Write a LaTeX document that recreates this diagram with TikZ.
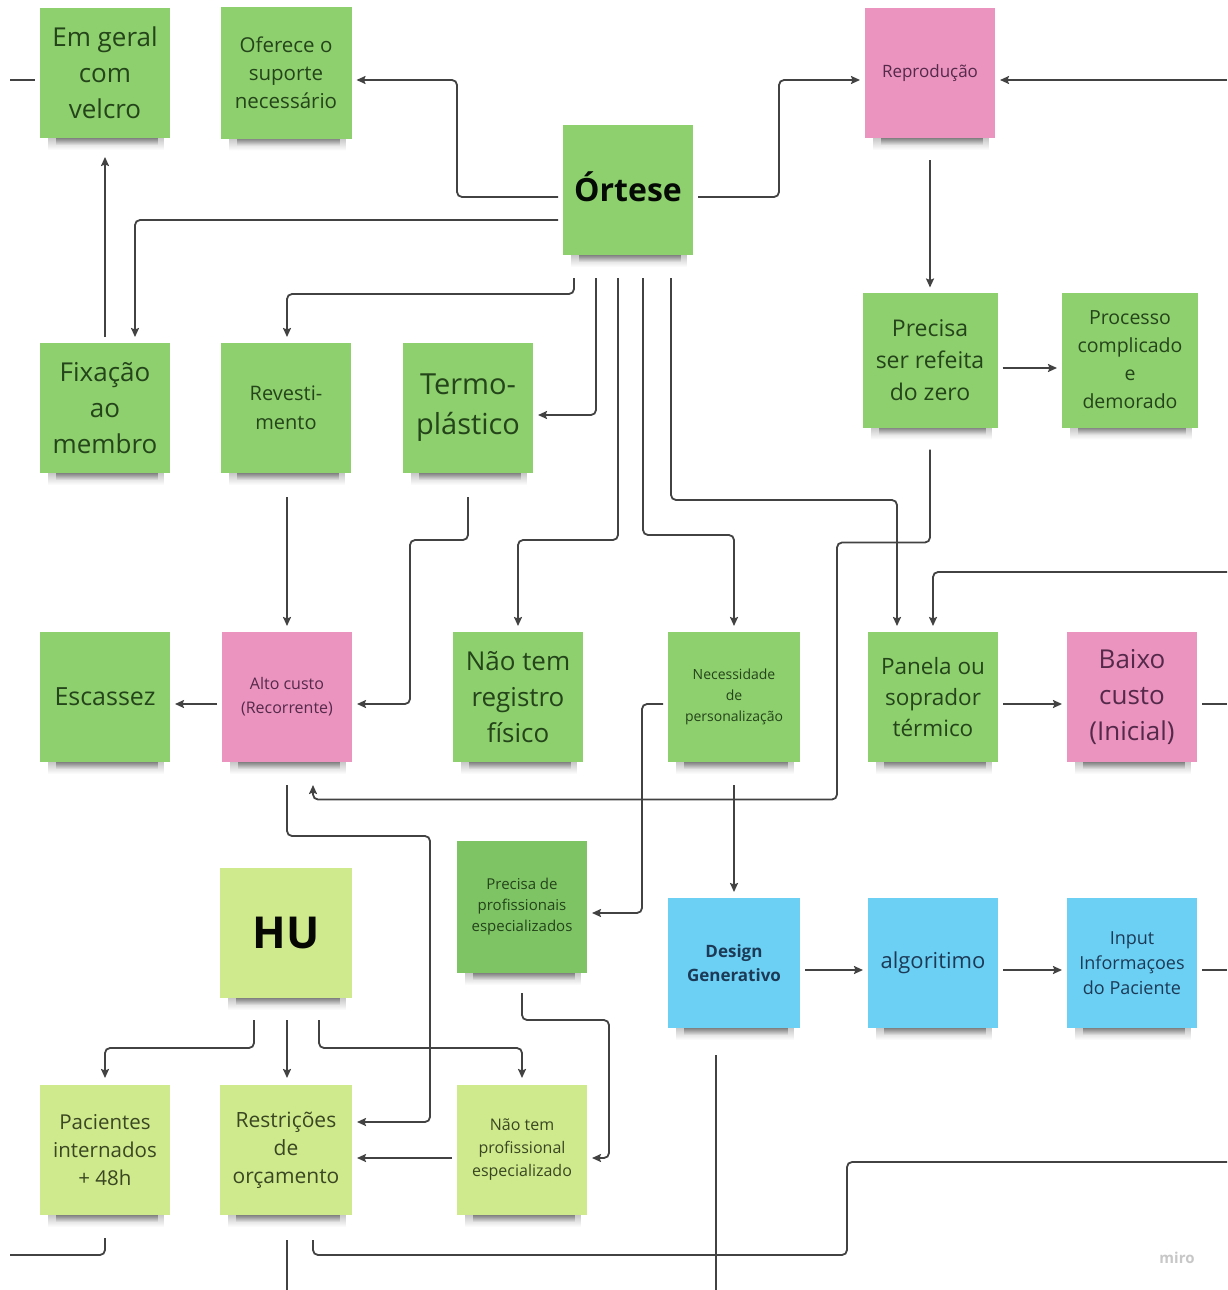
\documentclass[tikz,border=0pt]{standalone}
\usepackage{fontspec}
\setmainfont{Open Sans}
\usetikzlibrary{calc,arrows.meta,fadings}

\definecolor{stgreen}{HTML}{8ECF6E}
\definecolor{stgreendk}{HTML}{7EC465}
\definecolor{stlight}{HTML}{CFEA8C}
\definecolor{stpink}{HTML}{EA94BF}
\definecolor{stblue}{HTML}{6CD0F5}
\definecolor{txgreen}{HTML}{24441A}
\definecolor{txlight}{HTML}{3A4722}
\definecolor{txpink}{HTML}{55294A}
\definecolor{txblue}{HTML}{1C3A56}
\definecolor{wire}{HTML}{424242}

\newcommand\tsz[2]{\fontsize{#1}{#2}\selectfont}
\newcommand\stickshadow[1]{%
  \fill[black, opacity=0.22, path fading=south]
    ($(#1.south west)+(8,0)$) rectangle ($(#1.south east)+(-6,12)$);
  \fill[black, opacity=0.35, path fading=south]
    ($(#1.south west)+(16,0)$) rectangle ($(#1.south east)+(-12,7)$);}

\tikzset{
  sticky/.style={draw=none, minimum width=130pt, minimum height=130pt,
    inner sep=0pt, outer sep=0pt, align=center},
  gnote/.style={sticky, fill=stgreen, text=txgreen},
  gdnote/.style={sticky, fill=stgreendk, text=txgreen},
  lnote/.style={sticky, fill=stlight, text=txlight},
  pnote/.style={sticky, fill=stpink, text=txpink},
  bnote/.style={sticky, fill=stblue, text=txblue},
  fs/.style 2 args={font=\tsz{#1}{#2}},
  wire/.style={draw=wire, line width=1.8pt, rounded corners=5pt},
  arr/.style={wire, -{Stealth[length=9pt,width=8pt,inset=1.5pt]}},
}

\begin{document}
\begin{tikzpicture}[x=1pt,y=-1pt]
\useasboundingbox (0,0) rectangle (1227,1290);
\fill[white] (0,0) rectangle (1227,1290);

% sticky notes
\node[gnote, fs={26}{36}] (velcro) at (105,73) {Em geral\\com\\velcro};
\node[gnote, fs={20.5}{28}, minimum width=131pt, minimum height=131pt] (oferece) at (286,73) {Oferece o\\suporte\\necessário};
\node[gnote, font=\tsz{32}{40}\bfseries, text=black!85!txgreen] (ortese) at (628,190) {\raisebox{7pt}{Órtese}};
\node[pnote, fs={17}{24}] (reprod) at (930,73) {Reprodução};
\node[gnote, fs={26}{36}] (fixacao) at (105,408) {Fixação\\ao\\membro};
\node[gnote, fs={20}{29}] (revest) at (286,408) {Revesti-\\mento};
\node[gnote, fs={29}{40}] (termo) at (468,408) {Termo-\\plástico};
\node[gnote, fs={23}{32}, minimum width=135pt, minimum height=135pt] (refeita) at (930,360) {Precisa\\ser refeita\\do zero};
\node[gnote, fs={19.5}{28}, minimum width=136pt, minimum height=135pt] (processo) at (1130,360) {Processo\\complicado\\e\\demorado};
\node[gnote, fs={25}{34}] (escassez) at (105,697) {Escassez};
\node[pnote, fs={16}{24}] (alto) at (287,697) {Alto custo\\(Recorrente)};
\node[gnote, fs={26}{36}] (registro) at (518,697) {Não tem\\registro\\físico};
\node[gnote, fs={14}{21}, minimum width=132pt] (necess) at (734,697) {Necessidade\\de\\personalização};
\node[gnote, fs={22.5}{31}] (panela) at (933,697) {Panela ou\\soprador\\térmico};
\node[pnote, fs={26}{36}] (baixo) at (1132,697) {Baixo\\custo\\(Inicial)};
\node[lnote, font=\tsz{44}{52}\bfseries, text=black!90!txlight, minimum width=132pt] (hu) at (286,933) {HU};
\node[gdnote, fs={15}{21}, minimum height=132pt] (precprof) at (522,907) {Precisa de\\profissionais\\especializados};
\node[bnote, font=\tsz{17}{24}\bfseries, minimum width=132pt] (design) at (734,963) {Design\\Generativo};
\node[bnote, fs={22}{30}] (algo) at (933,963) {algoritimo};
\node[bnote, fs={18}{25}] (input) at (1132,963) {Input\\Informaçoes\\do Paciente};
\node[lnote, fs={20.5}{28}] (pacientes) at (105,1150) {Pacientes\\internados\\+ 48h};
\node[lnote, fs={21}{28}, minimum width=132pt] (restr) at (286,1150) {Restrições\\de\\orçamento};
\node[lnote, fs={16}{23}] (naoprof) at (522,1150) {Não tem\\profissional\\especializado};

% soft shadows under the notes
\foreach \n in {velcro,oferece,ortese,reprod,fixacao,revest,termo,refeita,processo,
  escassez,alto,registro,necess,panela,baixo,hu,precprof,design,algo,input,
  pacientes,restr,naoprof}{\stickshadow{\n}}

% loose ends leaving the board
\coordinate (offL1) at (10,80);
\coordinate (offR1) at (1227,80);
\coordinate (offR2) at (1227,572);
\coordinate (offR3) at (1227,704);
\coordinate (offR5) at (1227,970);
\coordinate (offR4) at (1227,1162);
\coordinate (offL2) at (10,1255);
\coordinate (offB1) at (287,1290);
\coordinate (offB2) at (716,1290);

% connectors
\draw[wire] (offL1) -- ($(velcro.west)+(-5,7)$);
\draw[arr] ($(ortese.west)+(-5,7)$) -- ++(-101,0) |- ($(oferece.east)+(5,7)$);
\draw[arr] ($(ortese.east)+(5,7)$) -- ++(81,0) |- ($(reprod.west)+(-5,7)$);
\draw[arr] (offR1) -- ($(reprod.east)+(5,7)$);
\draw[arr] ($(reprod.south)+(0,22)$) -- ($(refeita.north)+(0,-5)$);
\draw[arr] ($(refeita.east)+(5,8)$) -- ($(processo.west)+(-5,8)$);
\draw[arr] ($(ortese.west)+(-5,30)$) -| ($(fixacao.north)+(30,-6)$);
\draw[arr] ($(fixacao.north)+(0,-6)$) -- ($(velcro.south)+(0,19)$);

\draw[arr] ($(ortese.south)+(-54,23)$) -- ++(0,16) -| ($(revest.north)+(1,-6)$);
\draw[arr] ($(ortese.south)+(-32,23)$) |- ($(termo.east)+(5,7)$);
\draw[arr] ($(ortese.south)+(-10,23)$) -- ++(0,262) -| ($(registro.north)+(0,-6)$);
\draw[arr] ($(ortese.south)+(15,23)$) -- ++(0,257) -| ($(necess.north)+(0,-6)$);
\draw[arr] ($(ortese.south)+(43,23)$) -- ++(0,222) -| ($(panela.north)+(-36,-6)$);

\draw[arr] ($(refeita.south)+(0,22)$) -- ++(0,93) -- ++(-93,0) -- ++(0,257) -| ($(alto.south)+(26,23)$);
\draw[arr] (offR2) -| ($(panela.north)+(0,-6)$);
\draw[arr] ($(necess.west)+(-5,7)$) -- ++(-21,0) |- ($(precprof.east)+(5,6)$);
\draw[arr] ($(necess.south)+(0,23)$) -- ($(design.north)+(0,-6)$);
\draw[arr] ($(panela.east)+(5,7)$) -- ($(baixo.west)+(-5,7)$);
\draw[wire] ($(baixo.east)+(5,7)$) -- (offR3);

\draw[arr] ($(termo.south)+(0,24)$) -- ++(0,43) -- ++(-58,0) |- ($(alto.east)+(5,7)$);
\draw[arr] ($(revest.south)+(1,24)$) -- ($(alto.north)+(0,-6)$);
\draw[arr] ($(alto.west)+(-5,7)$) -- ($(escassez.east)+(5,7)$);
\draw[arr] ($(alto.south)+(0,23)$) -- ++(0,51) -- ++(143,0) |- ($(restr.east)+(5,-28)$);

\draw[arr] ($(hu.south)+(-32,22)$) -- ++(0,28) -| ($(pacientes.north)+(0,-7)$);
\draw[arr] ($(hu.south)+(1,22)$) -- ($(restr.north)+(1,-7)$);
\draw[arr] ($(hu.south)+(33,22)$) -- ++(0,28) -| ($(naoprof.north)+(0,-7)$);
\draw[arr] ($(precprof.south)+(0,20)$) -- ++(0,27) -- ++(87,0) |- ($(naoprof.east)+(5,8)$);
\draw[arr] ($(naoprof.west)+(-5,8)$) -- ($(restr.east)+(5,8)$);

\draw[wire] ($(pacientes.south)+(0,23)$) |- (offL2);
\draw[wire] ($(restr.south)+(1,25)$) -- (offB1);
\draw[wire] ($(restr.south)+(27,25)$) -- ++(0,15) -- ++(534,0) |- (offR4);
\draw[wire] ($(design.south)+(-18,27)$) -- (offB2);

\draw[arr] ($(design.east)+(5,7)$) -- ($(algo.west)+(-5,7)$);
\draw[arr] ($(algo.east)+(5,7)$) -- ($(input.west)+(-5,7)$);
\draw[wire] ($(input.east)+(5,7)$) -- (offR5);

% board watermark
\node[text=black!22, font=\tsz{15}{18}\bfseries] (brand) at (1177,1258) {miro};
\end{tikzpicture}
\end{document}
